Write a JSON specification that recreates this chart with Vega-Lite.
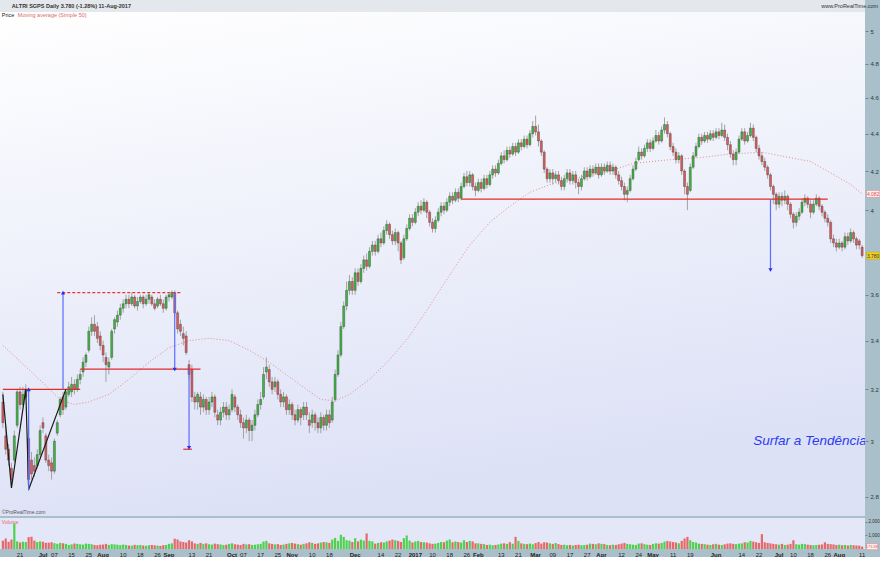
{
"$schema": "https://vega.github.io/schema/vega-lite/v6.json",
"padding": 0,
"background": "#a9c0ca",
"spacing": 2,
"config": {"view": {"stroke": null}, "font": "Liberation Sans"},
"datasets": {
"bars": [
{"d":"2016-06-13","o":3.15,"h":3.19,"l":3.05,"c":3.07,"v":620},
{"d":"2016-06-14","o":3.02,"h":3.06,"l":2.95,"c":2.97,"v":780},
{"d":"2016-06-15","o":2.97,"h":2.99,"l":2.91,"c":2.93,"v":540},
{"d":"2016-06-16","o":2.90,"h":2.92,"l":2.83,"c":2.86,"v":700},
{"d":"2016-06-17","o":2.93,"h":3.04,"l":2.92,"c":3.02,"v":1900},
{"d":"2016-06-20","o":3.06,"h":3.20,"l":3.05,"c":3.19,"v":560},
{"d":"2016-06-21","o":3.19,"h":3.21,"l":3.12,"c":3.14,"v":480},
{"d":"2016-06-22","o":3.14,"h":3.21,"l":3.13,"c":3.18,"v":540},
{"d":"2016-06-23","o":3.17,"h":3.22,"l":3.16,"c":3.20,"v":520},
{"d":"2016-06-24","o":3.01,"h":3.05,"l":2.82,"c":2.86,"v":880},
{"d":"2016-06-27","o":2.93,"h":2.96,"l":2.86,"c":2.88,"v":900},
{"d":"2016-06-28","o":2.91,"h":2.94,"l":2.87,"c":2.89,"v":620},
{"d":"2016-06-29","o":2.91,"h":2.97,"l":2.90,"c":2.95,"v":520},
{"d":"2016-06-30","o":2.95,"h":3.06,"l":2.94,"c":3.04,"v":560},
{"d":"2016-07-01","o":3.07,"h":3.09,"l":3.03,"c":3.05,"v":540},
{"d":"2016-07-04","o":3.02,"h":3.03,"l":2.92,"c":2.93,"v":460},
{"d":"2016-07-05","o":2.93,"h":2.95,"l":2.89,"c":2.91,"v":470},
{"d":"2016-07-06","o":2.92,"h":2.94,"l":2.86,"c":2.89,"v":500},
{"d":"2016-07-07","o":2.89,"h":3.01,"l":2.88,"c":3.00,"v":430},
{"d":"2016-07-08","o":3.03,"h":3.08,"l":3.02,"c":3.07,"v":380},
{"d":"2016-07-11","o":3.10,"h":3.17,"l":3.09,"c":3.16,"v":450},
{"d":"2016-07-12","o":3.17,"h":3.19,"l":3.10,"c":3.12,"v":420},
{"d":"2016-07-13","o":3.13,"h":3.20,"l":3.12,"c":3.19,"v":380},
{"d":"2016-07-14","o":3.18,"h":3.23,"l":3.17,"c":3.21,"v":300},
{"d":"2016-07-15","o":3.19,"h":3.25,"l":3.17,"c":3.22,"v":340},
{"d":"2016-07-18","o":3.22,"h":3.24,"l":3.18,"c":3.20,"v":410},
{"d":"2016-07-19","o":3.20,"h":3.26,"l":3.19,"c":3.24,"v":380},
{"d":"2016-07-20","o":3.24,"h":3.28,"l":3.22,"c":3.26,"v":350},
{"d":"2016-07-21","o":3.27,"h":3.33,"l":3.25,"c":3.31,"v":330},
{"d":"2016-07-22","o":3.31,"h":3.35,"l":3.29,"c":3.34,"v":400},
{"d":"2016-07-25","o":3.36,"h":3.46,"l":3.35,"c":3.44,"v":380},
{"d":"2016-07-26","o":3.44,"h":3.50,"l":3.42,"c":3.47,"v":360},
{"d":"2016-07-27","o":3.47,"h":3.51,"l":3.42,"c":3.44,"v":300},
{"d":"2016-07-28","o":3.46,"h":3.48,"l":3.39,"c":3.41,"v":280},
{"d":"2016-07-29","o":3.42,"h":3.44,"l":3.36,"c":3.38,"v":320},
{"d":"2016-08-01","o":3.38,"h":3.40,"l":3.31,"c":3.34,"v":330},
{"d":"2016-08-02","o":3.33,"h":3.35,"l":3.23,"c":3.30,"v":380},
{"d":"2016-08-03","o":3.29,"h":3.33,"l":3.26,"c":3.31,"v":300},
{"d":"2016-08-04","o":3.33,"h":3.45,"l":3.32,"c":3.44,"v":360},
{"d":"2016-08-05","o":3.45,"h":3.50,"l":3.43,"c":3.49,"v":340},
{"d":"2016-08-08","o":3.48,"h":3.53,"l":3.46,"c":3.51,"v":320},
{"d":"2016-08-09","o":3.51,"h":3.56,"l":3.49,"c":3.54,"v":290},
{"d":"2016-08-10","o":3.54,"h":3.58,"l":3.52,"c":3.56,"v":330},
{"d":"2016-08-11","o":3.56,"h":3.60,"l":3.54,"c":3.58,"v":300},
{"d":"2016-08-12","o":3.58,"h":3.60,"l":3.54,"c":3.56,"v":260},
{"d":"2016-08-15","o":3.56,"h":3.61,"l":3.55,"c":3.59,"v":250},
{"d":"2016-08-16","o":3.59,"h":3.60,"l":3.54,"c":3.55,"v":310},
{"d":"2016-08-17","o":3.55,"h":3.59,"l":3.53,"c":3.57,"v":280},
{"d":"2016-08-18","o":3.57,"h":3.60,"l":3.56,"c":3.59,"v":300},
{"d":"2016-08-19","o":3.59,"h":3.60,"l":3.54,"c":3.56,"v":260},
{"d":"2016-08-22","o":3.56,"h":3.60,"l":3.55,"c":3.58,"v":240},
{"d":"2016-08-23","o":3.58,"h":3.61,"l":3.56,"c":3.60,"v":280},
{"d":"2016-08-24","o":3.59,"h":3.60,"l":3.55,"c":3.56,"v":300},
{"d":"2016-08-25","o":3.56,"h":3.58,"l":3.53,"c":3.54,"v":270},
{"d":"2016-08-26","o":3.55,"h":3.59,"l":3.54,"c":3.58,"v":250},
{"d":"2016-08-29","o":3.58,"h":3.60,"l":3.55,"c":3.56,"v":230},
{"d":"2016-08-30","o":3.56,"h":3.58,"l":3.52,"c":3.54,"v":280},
{"d":"2016-08-31","o":3.54,"h":3.60,"l":3.53,"c":3.59,"v":300},
{"d":"2016-09-01","o":3.59,"h":3.61,"l":3.57,"c":3.60,"v":380},
{"d":"2016-09-02","o":3.59,"h":3.62,"l":3.58,"c":3.61,"v":420},
{"d":"2016-09-05","o":3.61,"h":3.62,"l":3.50,"c":3.52,"v":760},
{"d":"2016-09-06","o":3.52,"h":3.53,"l":3.43,"c":3.45,"v":700},
{"d":"2016-09-07","o":3.47,"h":3.49,"l":3.42,"c":3.44,"v":560},
{"d":"2016-09-08","o":3.43,"h":3.46,"l":3.38,"c":3.41,"v":520},
{"d":"2016-09-09","o":3.42,"h":3.44,"l":3.34,"c":3.35,"v":480},
{"d":"2016-09-12","o":3.30,"h":3.32,"l":3.24,"c":3.26,"v":650},
{"d":"2016-09-13","o":3.28,"h":3.30,"l":3.15,"c":3.17,"v":560},
{"d":"2016-09-14","o":3.17,"h":3.19,"l":3.12,"c":3.15,"v":420},
{"d":"2016-09-15","o":3.15,"h":3.19,"l":3.12,"c":3.18,"v":380},
{"d":"2016-09-16","o":3.17,"h":3.19,"l":3.10,"c":3.13,"v":450},
{"d":"2016-09-19","o":3.13,"h":3.18,"l":3.11,"c":3.16,"v":380},
{"d":"2016-09-20","o":3.16,"h":3.17,"l":3.10,"c":3.12,"v":420},
{"d":"2016-09-21","o":3.12,"h":3.17,"l":3.10,"c":3.15,"v":350},
{"d":"2016-09-22","o":3.15,"h":3.19,"l":3.13,"c":3.17,"v":330},
{"d":"2016-09-23","o":3.17,"h":3.18,"l":3.09,"c":3.11,"v":400},
{"d":"2016-09-26","o":3.10,"h":3.12,"l":3.06,"c":3.08,"v":360},
{"d":"2016-09-27","o":3.08,"h":3.13,"l":3.06,"c":3.11,"v":340},
{"d":"2016-09-28","o":3.11,"h":3.15,"l":3.09,"c":3.13,"v":300},
{"d":"2016-09-29","o":3.13,"h":3.15,"l":3.08,"c":3.10,"v":320},
{"d":"2016-09-30","o":3.10,"h":3.14,"l":3.08,"c":3.12,"v":380},
{"d":"2016-10-03","o":3.12,"h":3.20,"l":3.11,"c":3.18,"v":420},
{"d":"2016-10-04","o":3.17,"h":3.18,"l":3.11,"c":3.13,"v":350},
{"d":"2016-10-05","o":3.13,"h":3.14,"l":3.08,"c":3.10,"v":330},
{"d":"2016-10-06","o":3.10,"h":3.12,"l":3.05,"c":3.07,"v":300},
{"d":"2016-10-07","o":3.07,"h":3.09,"l":3.01,"c":3.05,"v":380},
{"d":"2016-10-10","o":3.05,"h":3.10,"l":3.03,"c":3.08,"v":340},
{"d":"2016-10-11","o":3.08,"h":3.09,"l":3.00,"c":3.04,"v":360},
{"d":"2016-10-12","o":3.04,"h":3.08,"l":3.00,"c":3.06,"v":300},
{"d":"2016-10-13","o":3.06,"h":3.12,"l":3.04,"c":3.10,"v":320},
{"d":"2016-10-14","o":3.10,"h":3.16,"l":3.09,"c":3.14,"v":350},
{"d":"2016-10-17","o":3.14,"h":3.19,"l":3.12,"c":3.16,"v":380},
{"d":"2016-10-18","o":3.17,"h":3.29,"l":3.16,"c":3.26,"v":550},
{"d":"2016-10-19","o":3.27,"h":3.33,"l":3.24,"c":3.29,"v":600},
{"d":"2016-10-20","o":3.28,"h":3.30,"l":3.21,"c":3.23,"v":420},
{"d":"2016-10-21","o":3.23,"h":3.25,"l":3.18,"c":3.20,"v":380},
{"d":"2016-10-24","o":3.21,"h":3.25,"l":3.19,"c":3.23,"v":340},
{"d":"2016-10-25","o":3.23,"h":3.24,"l":3.16,"c":3.18,"v":360},
{"d":"2016-10-26","o":3.18,"h":3.20,"l":3.13,"c":3.15,"v":300},
{"d":"2016-10-27","o":3.15,"h":3.19,"l":3.13,"c":3.17,"v":330},
{"d":"2016-10-28","o":3.17,"h":3.18,"l":3.10,"c":3.12,"v":380},
{"d":"2016-10-31","o":3.12,"h":3.16,"l":3.10,"c":3.14,"v":420},
{"d":"2016-11-01","o":3.14,"h":3.15,"l":3.08,"c":3.10,"v":450},
{"d":"2016-11-02","o":3.10,"h":3.12,"l":3.06,"c":3.08,"v":400},
{"d":"2016-11-03","o":3.08,"h":3.14,"l":3.07,"c":3.12,"v":360},
{"d":"2016-11-04","o":3.12,"h":3.13,"l":3.06,"c":3.09,"v":320},
{"d":"2016-11-07","o":3.10,"h":3.15,"l":3.08,"c":3.13,"v":380},
{"d":"2016-11-08","o":3.13,"h":3.15,"l":3.08,"c":3.10,"v":420},
{"d":"2016-11-09","o":3.08,"h":3.11,"l":3.03,"c":3.06,"v":500},
{"d":"2016-11-10","o":3.07,"h":3.12,"l":3.05,"c":3.10,"v":450},
{"d":"2016-11-11","o":3.10,"h":3.11,"l":3.04,"c":3.07,"v":380},
{"d":"2016-11-14","o":3.07,"h":3.09,"l":3.03,"c":3.05,"v":420},
{"d":"2016-11-15","o":3.05,"h":3.11,"l":3.03,"c":3.09,"v":480},
{"d":"2016-11-16","o":3.09,"h":3.10,"l":3.04,"c":3.06,"v":520},
{"d":"2016-11-17","o":3.06,"h":3.12,"l":3.04,"c":3.10,"v":500},
{"d":"2016-11-18","o":3.10,"h":3.12,"l":3.05,"c":3.07,"v":460},
{"d":"2016-11-21","o":3.08,"h":3.17,"l":3.07,"c":3.15,"v":700},
{"d":"2016-11-22","o":3.16,"h":3.28,"l":3.15,"c":3.26,"v":820},
{"d":"2016-11-23","o":3.26,"h":3.36,"l":3.25,"c":3.34,"v":600},
{"d":"2016-11-24","o":3.34,"h":3.48,"l":3.33,"c":3.46,"v":1050},
{"d":"2016-11-25","o":3.46,"h":3.57,"l":3.45,"c":3.55,"v":900},
{"d":"2016-11-28","o":3.55,"h":3.66,"l":3.53,"c":3.62,"v":650},
{"d":"2016-11-29","o":3.62,"h":3.69,"l":3.60,"c":3.66,"v":620},
{"d":"2016-11-30","o":3.66,"h":3.68,"l":3.60,"c":3.62,"v":520},
{"d":"2016-12-01","o":3.62,"h":3.72,"l":3.60,"c":3.70,"v":800},
{"d":"2016-12-02","o":3.70,"h":3.72,"l":3.64,"c":3.66,"v":560},
{"d":"2016-12-05","o":3.66,"h":3.74,"l":3.65,"c":3.72,"v":700},
{"d":"2016-12-06","o":3.72,"h":3.78,"l":3.70,"c":3.76,"v":620},
{"d":"2016-12-07","o":3.76,"h":3.79,"l":3.71,"c":3.73,"v":1150},
{"d":"2016-12-08","o":3.73,"h":3.82,"l":3.72,"c":3.80,"v":600},
{"d":"2016-12-09","o":3.80,"h":3.85,"l":3.78,"c":3.83,"v":560},
{"d":"2016-12-12","o":3.83,"h":3.85,"l":3.78,"c":3.80,"v":400},
{"d":"2016-12-13","o":3.80,"h":3.88,"l":3.79,"c":3.86,"v":450},
{"d":"2016-12-14","o":3.86,"h":3.89,"l":3.82,"c":3.84,"v":500},
{"d":"2016-12-15","o":3.84,"h":3.92,"l":3.83,"c":3.90,"v":480},
{"d":"2016-12-16","o":3.90,"h":3.95,"l":3.88,"c":3.93,"v":560},
{"d":"2016-12-19","o":3.93,"h":3.94,"l":3.86,"c":3.88,"v":620},
{"d":"2016-12-20","o":3.88,"h":3.90,"l":3.83,"c":3.85,"v":700},
{"d":"2016-12-21","o":3.85,"h":3.91,"l":3.83,"c":3.89,"v":650},
{"d":"2016-12-22","o":3.89,"h":3.90,"l":3.80,"c":3.84,"v":600},
{"d":"2016-12-23","o":3.84,"h":3.85,"l":3.74,"c":3.76,"v":520},
{"d":"2016-12-27","o":3.77,"h":3.88,"l":3.76,"c":3.86,"v":800},
{"d":"2016-12-28","o":3.86,"h":3.93,"l":3.85,"c":3.91,"v":1000},
{"d":"2016-12-29","o":3.91,"h":3.98,"l":3.90,"c":3.96,"v":620},
{"d":"2016-12-30","o":3.96,"h":3.98,"l":3.92,"c":3.94,"v":480},
{"d":"2017-01-02","o":3.94,"h":4.01,"l":3.93,"c":3.99,"v":560},
{"d":"2017-01-03","o":3.99,"h":4.04,"l":3.97,"c":4.02,"v":600},
{"d":"2017-01-04","o":4.02,"h":4.05,"l":3.98,"c":4.00,"v":520},
{"d":"2017-01-05","o":4.00,"h":4.06,"l":3.99,"c":4.04,"v":500},
{"d":"2017-01-06","o":4.04,"h":4.05,"l":3.96,"c":3.99,"v":480},
{"d":"2017-01-09","o":3.99,"h":4.00,"l":3.92,"c":3.94,"v":420},
{"d":"2017-01-10","o":3.94,"h":3.96,"l":3.89,"c":3.91,"v":380},
{"d":"2017-01-11","o":3.91,"h":3.97,"l":3.89,"c":3.95,"v":400},
{"d":"2017-01-12","o":3.95,"h":4.01,"l":3.94,"c":3.99,"v":450},
{"d":"2017-01-13","o":3.99,"h":4.04,"l":3.97,"c":4.02,"v":520},
{"d":"2017-01-16","o":4.02,"h":4.04,"l":3.98,"c":4.00,"v":500},
{"d":"2017-01-17","o":4.00,"h":4.06,"l":3.99,"c":4.04,"v":620},
{"d":"2017-01-18","o":4.04,"h":4.09,"l":4.02,"c":4.07,"v":700},
{"d":"2017-01-19","o":4.07,"h":4.09,"l":4.03,"c":4.05,"v":500},
{"d":"2017-01-20","o":4.05,"h":4.11,"l":4.04,"c":4.09,"v":560},
{"d":"2017-01-23","o":4.09,"h":4.11,"l":4.04,"c":4.06,"v":520},
{"d":"2017-01-24","o":4.06,"h":4.14,"l":4.05,"c":4.12,"v":480},
{"d":"2017-01-25","o":4.12,"h":4.19,"l":4.11,"c":4.17,"v":650},
{"d":"2017-01-26","o":4.17,"h":4.20,"l":4.12,"c":4.14,"v":520},
{"d":"2017-01-27","o":4.14,"h":4.20,"l":4.12,"c":4.18,"v":600},
{"d":"2017-01-30","o":4.18,"h":4.19,"l":4.10,"c":4.12,"v":560},
{"d":"2017-01-31","o":4.12,"h":4.14,"l":4.07,"c":4.10,"v":420},
{"d":"2017-02-01","o":4.10,"h":4.16,"l":4.09,"c":4.14,"v":420},
{"d":"2017-02-02","o":4.14,"h":4.16,"l":4.09,"c":4.11,"v":380},
{"d":"2017-02-03","o":4.11,"h":4.18,"l":4.10,"c":4.16,"v":360},
{"d":"2017-02-06","o":4.16,"h":4.18,"l":4.11,"c":4.13,"v":300},
{"d":"2017-02-07","o":4.13,"h":4.20,"l":4.12,"c":4.18,"v":320},
{"d":"2017-02-08","o":4.18,"h":4.23,"l":4.16,"c":4.21,"v":280},
{"d":"2017-02-09","o":4.21,"h":4.23,"l":4.17,"c":4.19,"v":300},
{"d":"2017-02-10","o":4.19,"h":4.26,"l":4.18,"c":4.24,"v":340},
{"d":"2017-02-13","o":4.24,"h":4.30,"l":4.23,"c":4.28,"v":400},
{"d":"2017-02-14","o":4.28,"h":4.31,"l":4.24,"c":4.26,"v":420},
{"d":"2017-02-15","o":4.26,"h":4.33,"l":4.25,"c":4.31,"v":380},
{"d":"2017-02-16","o":4.31,"h":4.33,"l":4.27,"c":4.29,"v":500},
{"d":"2017-02-17","o":4.29,"h":4.35,"l":4.28,"c":4.33,"v":380},
{"d":"2017-02-20","o":4.33,"h":4.35,"l":4.28,"c":4.30,"v":900},
{"d":"2017-02-21","o":4.30,"h":4.37,"l":4.29,"c":4.35,"v":600},
{"d":"2017-02-22","o":4.35,"h":4.37,"l":4.31,"c":4.33,"v":420},
{"d":"2017-02-23","o":4.33,"h":4.39,"l":4.32,"c":4.37,"v":380},
{"d":"2017-02-24","o":4.37,"h":4.39,"l":4.32,"c":4.34,"v":360},
{"d":"2017-02-27","o":4.34,"h":4.42,"l":4.33,"c":4.40,"v":400},
{"d":"2017-02-28","o":4.40,"h":4.47,"l":4.38,"c":4.44,"v":350},
{"d":"2017-03-01","o":4.44,"h":4.50,"l":4.39,"c":4.41,"v":440},
{"d":"2017-03-02","o":4.41,"h":4.45,"l":4.33,"c":4.36,"v":520},
{"d":"2017-03-03","o":4.36,"h":4.37,"l":4.28,"c":4.30,"v":400},
{"d":"2017-03-06","o":4.30,"h":4.31,"l":4.19,"c":4.21,"v":500},
{"d":"2017-03-07","o":4.21,"h":4.22,"l":4.14,"c":4.16,"v":480},
{"d":"2017-03-08","o":4.16,"h":4.21,"l":4.14,"c":4.19,"v":420},
{"d":"2017-03-09","o":4.19,"h":4.21,"l":4.13,"c":4.16,"v":380},
{"d":"2017-03-10","o":4.16,"h":4.20,"l":4.14,"c":4.18,"v":440},
{"d":"2017-03-13","o":4.18,"h":4.20,"l":4.13,"c":4.15,"v":360},
{"d":"2017-03-14","o":4.15,"h":4.17,"l":4.10,"c":4.12,"v":300},
{"d":"2017-03-15","o":4.12,"h":4.18,"l":4.10,"c":4.16,"v":320},
{"d":"2017-03-16","o":4.16,"h":4.21,"l":4.14,"c":4.19,"v":280},
{"d":"2017-03-17","o":4.19,"h":4.21,"l":4.13,"c":4.15,"v":300},
{"d":"2017-03-20","o":4.15,"h":4.20,"l":4.13,"c":4.18,"v":260},
{"d":"2017-03-21","o":4.18,"h":4.20,"l":4.11,"c":4.14,"v":300},
{"d":"2017-03-22","o":4.14,"h":4.16,"l":4.08,"c":4.12,"v":320},
{"d":"2017-03-23","o":4.12,"h":4.18,"l":4.10,"c":4.16,"v":280},
{"d":"2017-03-24","o":4.16,"h":4.22,"l":4.15,"c":4.20,"v":300},
{"d":"2017-03-27","o":4.20,"h":4.22,"l":4.15,"c":4.17,"v":320},
{"d":"2017-03-28","o":4.17,"h":4.23,"l":4.16,"c":4.21,"v":400},
{"d":"2017-03-29","o":4.21,"h":4.23,"l":4.17,"c":4.19,"v":380},
{"d":"2017-03-30","o":4.19,"h":4.24,"l":4.18,"c":4.22,"v":350},
{"d":"2017-03-31","o":4.22,"h":4.24,"l":4.16,"c":4.18,"v":420},
{"d":"2017-04-03","o":4.18,"h":4.24,"l":4.17,"c":4.22,"v":380},
{"d":"2017-04-04","o":4.22,"h":4.24,"l":4.18,"c":4.20,"v":360},
{"d":"2017-04-05","o":4.20,"h":4.25,"l":4.19,"c":4.23,"v":300},
{"d":"2017-04-06","o":4.23,"h":4.25,"l":4.18,"c":4.20,"v":280},
{"d":"2017-04-07","o":4.20,"h":4.24,"l":4.18,"c":4.22,"v":320},
{"d":"2017-04-10","o":4.22,"h":4.23,"l":4.16,"c":4.18,"v":300},
{"d":"2017-04-11","o":4.18,"h":4.20,"l":4.13,"c":4.15,"v":350},
{"d":"2017-04-12","o":4.15,"h":4.17,"l":4.10,"c":4.12,"v":400},
{"d":"2017-04-13","o":4.12,"h":4.14,"l":4.05,"c":4.08,"v":450},
{"d":"2017-04-18","o":4.08,"h":4.12,"l":4.04,"c":4.10,"v":380},
{"d":"2017-04-19","o":4.10,"h":4.18,"l":4.09,"c":4.16,"v":350},
{"d":"2017-04-20","o":4.16,"h":4.23,"l":4.15,"c":4.21,"v":320},
{"d":"2017-04-21","o":4.21,"h":4.27,"l":4.20,"c":4.25,"v":300},
{"d":"2017-04-24","o":4.26,"h":4.33,"l":4.25,"c":4.30,"v":400},
{"d":"2017-04-25","o":4.30,"h":4.32,"l":4.26,"c":4.28,"v":420},
{"d":"2017-04-26","o":4.28,"h":4.34,"l":4.27,"c":4.32,"v":360},
{"d":"2017-04-27","o":4.32,"h":4.37,"l":4.30,"c":4.35,"v":320},
{"d":"2017-04-28","o":4.35,"h":4.37,"l":4.30,"c":4.32,"v":300},
{"d":"2017-05-02","o":4.32,"h":4.38,"l":4.31,"c":4.36,"v":380},
{"d":"2017-05-03","o":4.36,"h":4.42,"l":4.35,"c":4.39,"v":420},
{"d":"2017-05-04","o":4.39,"h":4.41,"l":4.34,"c":4.36,"v":400},
{"d":"2017-05-05","o":4.36,"h":4.44,"l":4.35,"c":4.42,"v":450},
{"d":"2017-05-08","o":4.42,"h":4.49,"l":4.40,"c":4.45,"v":550},
{"d":"2017-05-09","o":4.45,"h":4.47,"l":4.38,"c":4.40,"v":600},
{"d":"2017-05-10","o":4.40,"h":4.41,"l":4.31,"c":4.33,"v":560},
{"d":"2017-05-11","o":4.33,"h":4.35,"l":4.28,"c":4.30,"v":520},
{"d":"2017-05-12","o":4.30,"h":4.32,"l":4.24,"c":4.26,"v":480},
{"d":"2017-05-15","o":4.26,"h":4.30,"l":4.24,"c":4.28,"v":420},
{"d":"2017-05-16","o":4.28,"h":4.29,"l":4.18,"c":4.20,"v":600},
{"d":"2017-05-17","o":4.20,"h":4.21,"l":4.08,"c":4.12,"v":780},
{"d":"2017-05-18","o":4.12,"h":4.14,"l":4.00,"c":4.08,"v":900},
{"d":"2017-05-19","o":4.10,"h":4.24,"l":4.09,"c":4.22,"v":650},
{"d":"2017-05-22","o":4.22,"h":4.30,"l":4.21,"c":4.28,"v":520},
{"d":"2017-05-23","o":4.28,"h":4.35,"l":4.27,"c":4.33,"v":480},
{"d":"2017-05-24","o":4.33,"h":4.40,"l":4.32,"c":4.38,"v":400},
{"d":"2017-05-25","o":4.38,"h":4.40,"l":4.34,"c":4.36,"v":380},
{"d":"2017-05-26","o":4.36,"h":4.41,"l":4.35,"c":4.39,"v":360},
{"d":"2017-05-29","o":4.39,"h":4.41,"l":4.35,"c":4.37,"v":320},
{"d":"2017-05-30","o":4.37,"h":4.42,"l":4.36,"c":4.40,"v":300},
{"d":"2017-05-31","o":4.40,"h":4.42,"l":4.36,"c":4.38,"v":350},
{"d":"2017-06-01","o":4.38,"h":4.43,"l":4.37,"c":4.41,"v":380},
{"d":"2017-06-02","o":4.41,"h":4.43,"l":4.37,"c":4.39,"v":320},
{"d":"2017-06-05","o":4.39,"h":4.46,"l":4.38,"c":4.42,"v":300},
{"d":"2017-06-06","o":4.42,"h":4.45,"l":4.36,"c":4.38,"v":350},
{"d":"2017-06-07","o":4.38,"h":4.40,"l":4.31,"c":4.34,"v":400},
{"d":"2017-06-08","o":4.34,"h":4.36,"l":4.27,"c":4.29,"v":420},
{"d":"2017-06-09","o":4.29,"h":4.31,"l":4.23,"c":4.26,"v":380},
{"d":"2017-06-12","o":4.26,"h":4.32,"l":4.23,"c":4.30,"v":360},
{"d":"2017-06-13","o":4.30,"h":4.39,"l":4.29,"c":4.37,"v":400},
{"d":"2017-06-14","o":4.37,"h":4.43,"l":4.36,"c":4.41,"v":420},
{"d":"2017-06-15","o":4.41,"h":4.43,"l":4.34,"c":4.36,"v":500},
{"d":"2017-06-16","o":4.36,"h":4.41,"l":4.35,"c":4.39,"v":480},
{"d":"2017-06-19","o":4.39,"h":4.46,"l":4.38,"c":4.43,"v":600},
{"d":"2017-06-20","o":4.43,"h":4.45,"l":4.36,"c":4.38,"v":550},
{"d":"2017-06-21","o":4.38,"h":4.39,"l":4.30,"c":4.32,"v":500},
{"d":"2017-06-22","o":4.32,"h":4.34,"l":4.26,"c":4.28,"v":450},
{"d":"2017-06-23","o":4.28,"h":4.30,"l":4.23,"c":4.25,"v":1100},
{"d":"2017-06-26","o":4.25,"h":4.27,"l":4.20,"c":4.22,"v":500},
{"d":"2017-06-27","o":4.22,"h":4.23,"l":4.16,"c":4.18,"v":450},
{"d":"2017-06-28","o":4.18,"h":4.19,"l":4.10,"c":4.12,"v":420},
{"d":"2017-06-29","o":4.12,"h":4.13,"l":4.03,"c":4.08,"v":380},
{"d":"2017-06-30","o":4.08,"h":4.09,"l":4.00,"c":4.03,"v":350},
{"d":"2017-07-03","o":4.03,"h":4.09,"l":4.01,"c":4.07,"v":320},
{"d":"2017-07-04","o":4.07,"h":4.09,"l":4.02,"c":4.05,"v":380},
{"d":"2017-07-05","o":4.05,"h":4.10,"l":4.03,"c":4.07,"v":300},
{"d":"2017-07-06","o":4.07,"h":4.08,"l":4.00,"c":4.03,"v":320},
{"d":"2017-07-07","o":4.03,"h":4.04,"l":3.96,"c":3.98,"v":380},
{"d":"2017-07-10","o":3.98,"h":3.99,"l":3.91,"c":3.94,"v":650},
{"d":"2017-07-11","o":3.94,"h":3.99,"l":3.92,"c":3.97,"v":350},
{"d":"2017-07-12","o":3.97,"h":4.01,"l":3.95,"c":3.99,"v":320},
{"d":"2017-07-13","o":3.99,"h":4.06,"l":3.98,"c":4.04,"v":380},
{"d":"2017-07-14","o":4.04,"h":4.08,"l":4.02,"c":4.06,"v":360},
{"d":"2017-07-17","o":4.06,"h":4.07,"l":4.01,"c":4.03,"v":320},
{"d":"2017-07-18","o":4.03,"h":4.05,"l":3.96,"c":3.99,"v":300},
{"d":"2017-07-19","o":3.99,"h":4.05,"l":3.98,"c":4.03,"v":280},
{"d":"2017-07-20","o":4.03,"h":4.08,"l":4.02,"c":4.06,"v":300},
{"d":"2017-07-21","o":4.06,"h":4.07,"l":4.00,"c":4.02,"v":320},
{"d":"2017-07-24","o":4.02,"h":4.03,"l":3.97,"c":3.99,"v":340},
{"d":"2017-07-25","o":3.99,"h":4.00,"l":3.94,"c":3.96,"v":500},
{"d":"2017-07-26","o":3.96,"h":3.98,"l":3.92,"c":3.94,"v":380},
{"d":"2017-07-27","o":3.94,"h":3.95,"l":3.84,"c":3.86,"v":360},
{"d":"2017-07-28","o":3.86,"h":3.88,"l":3.82,"c":3.84,"v":340},
{"d":"2017-07-31","o":3.84,"h":3.86,"l":3.80,"c":3.82,"v":300},
{"d":"2017-08-01","o":3.82,"h":3.86,"l":3.81,"c":3.84,"v":320},
{"d":"2017-08-02","o":3.84,"h":3.85,"l":3.80,"c":3.82,"v":280},
{"d":"2017-08-03","o":3.82,"h":3.89,"l":3.81,"c":3.87,"v":300},
{"d":"2017-08-04","o":3.87,"h":3.89,"l":3.83,"c":3.85,"v":260},
{"d":"2017-08-07","o":3.85,"h":3.91,"l":3.84,"c":3.89,"v":300},
{"d":"2017-08-08","o":3.89,"h":3.90,"l":3.84,"c":3.86,"v":280},
{"d":"2017-08-09","o":3.86,"h":3.87,"l":3.81,"c":3.83,"v":260},
{"d":"2017-08-10","o":3.85,"h":3.86,"l":3.81,"c":3.83,"v":250},
{"d":"2017-08-11","o":3.82,"h":3.83,"l":3.77,"c":3.78,"v":173}
],
"ma": [
{"d":"2016-06-13","m":3.38},{"d":"2016-06-27","m":3.27},{"d":"2016-07-11","m":3.16},{"d":"2016-07-18","m":3.14},
{"d":"2016-07-25","m":3.15},{"d":"2016-08-03","m":3.18},{"d":"2016-08-12","m":3.24},{"d":"2016-08-23","m":3.31},
{"d":"2016-09-01","m":3.37},{"d":"2016-09-12","m":3.40},{"d":"2016-09-21","m":3.41},{"d":"2016-09-30","m":3.40},
{"d":"2016-10-11","m":3.36},{"d":"2016-10-20","m":3.31},{"d":"2016-10-31","m":3.25},{"d":"2016-11-08","m":3.20},
{"d":"2016-11-15","m":3.16},{"d":"2016-11-22","m":3.155},{"d":"2016-11-29","m":3.18},{"d":"2016-12-08","m":3.24},
{"d":"2016-12-19","m":3.32},{"d":"2016-12-29","m":3.42},{"d":"2017-01-09","m":3.55},{"d":"2017-01-18","m":3.69},
{"d":"2017-01-27","m":3.83},{"d":"2017-02-07","m":3.94},{"d":"2017-02-16","m":4.02},{"d":"2017-02-27","m":4.09},
{"d":"2017-03-08","m":4.13},{"d":"2017-03-23","m":4.17},{"d":"2017-04-06","m":4.20},{"d":"2017-04-20","m":4.24},
{"d":"2017-05-10","m":4.26},{"d":"2017-05-24","m":4.27},{"d":"2017-06-08","m":4.29},{"d":"2017-06-23","m":4.30},
{"d":"2017-07-07","m":4.27},{"d":"2017-07-18","m":4.25},{"d":"2017-07-27","m":4.19},{"d":"2017-08-07","m":4.13},
{"d":"2017-08-11","m":4.082}
],
"redLines": [
{"a":"2016-06-13","b":"2016-07-20","p":3.20},
{"a":"2016-07-20","b":"2016-09-16","p":3.282},
{"a":"2016-09-08","b":"2016-09-13","p":2.97},
{"a":"2017-01-24","b":"2017-07-26","p":4.056}
],
"dashLines": [
{"a":"2016-07-08","b":"2016-09-07","p":3.61}
],
"zigzag": [
{"d":"2016-06-13","p":3.18},{"d":"2016-06-16","p":2.83},{"d":"2016-06-23","p":3.20},{"d":"2016-06-24","p":2.825},{"d":"2016-07-13","p":3.20}
],
"arrowsUp": [
{"d":"2016-06-24","from":2.825,"to":3.20},
{"d":"2016-07-12","from":3.20,"to":3.61}
],
"arrowsDown": [
{"d":"2016-09-05","from":3.61,"to":3.28},
{"d":"2016-09-12","from":3.28,"to":2.975},
{"d":"2017-06-28","from":4.056,"to":3.713}
]
},
"vconcat": [
{
"width": 865,
"height": 504,
"resolve": {"axis": {"x": "independent", "y": "independent"}},
"layer": [
{"data": {"values": [{}]}, "mark": {"type": "rect", "color": {"gradient": "linear", "x1": 0, "y1": 0, "x2": 0.25, "y2": 1, "stops": [{"offset": 0, "color": "#ffffff"}, {"offset": 1, "color": "#dde1f6"}]}}, "encoding": {}},
{"data": {"values": [{"a": 5.12, "b": 5.197}]}, "mark": {"type": "rect", "color": "#e4e8ec", "x2Offset": 15},
 "encoding": {"y": {"field": "a", "type": "quantitative", "axis": null}, "y2": {"field": "b"}}},
{"data": {"name": "ma"}, "mark": {"type": "line", "color": "#e88a8a", "strokeWidth": 1, "strokeDash": [1, 2]},
 "encoding": {"x": {"field": "d", "type": "ordinal", "axis": null}, "y": {"field": "m", "type": "quantitative", "axis": null}}},
{"data": {"name": "bars"}, "mark": {"type": "rule", "color": "#a3a3a3", "strokeWidth": 1},
 "encoding": {"x": {"field": "d", "type": "ordinal", "axis": null, "scale": {"type": "band", "paddingInner": 0, "paddingOuter": 0.5}},
  "y": {"field": "l", "type": "quantitative", "scale": {"type": "log", "domain": [2.733, 5.12], "nice": false, "zero": false},
   "axis": {"orient": "right", "title": null, "values": [2.8, 3, 3.2, 3.4, 3.6, 4, 4.2, 4.4, 4.6, 4.8, 5], "format": ".1~f", "labelFontSize": 6, "labelColor": "#333333", "tickSize": 3, "tickColor": "#6f8792", "labelPadding": 2, "domain": false, "grid": false}},
  "y2": {"field": "h"}}},
{"data": {"name": "bars"}, "mark": {"type": "bar", "size": 2, "stroke": "#3a3a3a", "strokeWidth": 0.4},
 "encoding": {"x": {"field": "d", "type": "ordinal", "axis": null}, "y": {"field": "o", "type": "quantitative", "axis": null}, "y2": {"field": "c"},
  "color": {"condition": {"test": "datum.c >= datum.o", "value": "#3cb93c"}, "value": "#e05a5a"}}},
{"data": {"name": "redLines"}, "mark": {"type": "rule", "color": "#e52a2a", "strokeWidth": 1.2},
 "encoding": {"x": {"field": "a", "type": "ordinal", "axis": null}, "x2": {"field": "b"}, "y": {"field": "p", "type": "quantitative", "axis": null}}},
{"data": {"name": "dashLines"}, "mark": {"type": "rule", "color": "#ee3030", "strokeWidth": 1.2, "strokeDash": [3, 2]},
 "encoding": {"x": {"field": "a", "type": "ordinal", "axis": null}, "x2": {"field": "b"}, "y": {"field": "p", "type": "quantitative", "axis": null}}},
{"data": {"name": "zigzag"}, "mark": {"type": "line", "color": "#1a1a1a", "strokeWidth": 1.2},
 "encoding": {"x": {"field": "d", "type": "ordinal", "axis": null}, "y": {"field": "p", "type": "quantitative", "axis": null}}},
{"data": {"name": "arrowsUp"}, "mark": {"type": "rule", "color": "#5b6cff", "strokeWidth": 1.2},
 "encoding": {"x": {"field": "d", "type": "ordinal", "axis": null}, "y": {"field": "from", "type": "quantitative", "axis": null}, "y2": {"field": "to"}}},
{"data": {"name": "arrowsDown"}, "mark": {"type": "rule", "color": "#5b6cff", "strokeWidth": 1.2},
 "encoding": {"x": {"field": "d", "type": "ordinal", "axis": null}, "y": {"field": "from", "type": "quantitative", "axis": null}, "y2": {"field": "to"}}},
{"data": {"name": "arrowsUp"}, "mark": {"type": "point", "shape": "triangle-up", "filled": true, "color": "#2233ee", "size": 18, "opacity": 1},
 "encoding": {"x": {"field": "d", "type": "ordinal", "axis": null}, "y": {"field": "to", "type": "quantitative", "axis": null}}},
{"data": {"name": "arrowsDown"}, "mark": {"type": "point", "shape": "triangle-down", "filled": true, "color": "#2233ee", "size": 18, "opacity": 1},
 "encoding": {"x": {"field": "d", "type": "ordinal", "axis": null}, "y": {"field": "to", "type": "quantitative", "axis": null}}},
{"data": {"values": [{"d": "2017-06-20", "p": 3.0, "t": "Surfar a Tendência"}]}, "mark": {"type": "text", "align": "left", "baseline": "middle", "fontSize": 13.5, "fontStyle": "italic", "font": "Liberation Sans", "color": "#2a3cf0", "clip": true},
 "encoding": {"x": {"field": "d", "type": "ordinal", "axis": null}, "y": {"field": "p", "type": "quantitative", "axis": null}, "text": {"field": "t"}}},
{"data": {"values": [{"d": "2016-06-13", "p": 2.745, "t": "©ProRealTime.com"}]}, "mark": {"type": "text", "align": "left", "baseline": "middle", "fontSize": 5, "color": "#555555", "dx": -1},
 "encoding": {"x": {"field": "d", "type": "ordinal", "axis": null}, "y": {"field": "p", "type": "quantitative", "axis": null}, "text": {"field": "t"}}},
{"data": {"values": [{"d": "2016-06-13", "p": 5.158, "t": "ALTRI SGPS    Daily    3.780 (-1.28%)    11-Aug-2017"}]}, "mark": {"type": "text", "align": "left", "baseline": "middle", "fontSize": 5.5, "fontWeight": "bold", "color": "#333333", "dx": 9},
 "encoding": {"x": {"field": "d", "type": "ordinal", "axis": null}, "y": {"field": "p", "type": "quantitative", "axis": null}, "text": {"field": "t"}}},
{"data": {"values": [{"d": "2017-08-11", "p": 5.158, "t": "www.ProRealTime.com"}]}, "mark": {"type": "text", "align": "right", "baseline": "middle", "fontSize": 5.5, "color": "#333333", "dx": 16},
 "encoding": {"x": {"field": "d", "type": "ordinal", "axis": null}, "y": {"field": "p", "type": "quantitative", "axis": null}, "text": {"field": "t"}}},
{"data": {"values": [{"d": "2016-06-13", "p": 5.10, "t": "Price"}]}, "mark": {"type": "text", "align": "left", "baseline": "middle", "fontSize": 5.5, "color": "#222222", "dx": -1},
 "encoding": {"x": {"field": "d", "type": "ordinal", "axis": null}, "y": {"field": "p", "type": "quantitative", "axis": null}, "text": {"field": "t"}}},
{"data": {"values": [{"d": "2016-06-13", "p": 5.10, "t": "Moving average (Simple 50)"}]}, "mark": {"type": "text", "align": "left", "baseline": "middle", "fontSize": 5.5, "color": "#e06a6a", "dx": 15},
 "encoding": {"x": {"field": "d", "type": "ordinal", "axis": null}, "y": {"field": "p", "type": "quantitative", "axis": null}, "text": {"field": "t"}}},
{"data": {"values": [{"d": "2017-08-11", "p": 4.082}]}, "mark": {"type": "point", "shape": "M-1.9,-1H1.9V1H-1.9Z", "size": 49, "filled": true, "fill": "#fbeff2", "stroke": "#e07a7a", "strokeWidth": 0.5, "xOffset": 11, "opacity": 1},
 "encoding": {"x": {"field": "d", "type": "ordinal", "axis": null}, "y": {"field": "p", "type": "quantitative", "axis": null}}},
{"data": {"values": [{"d": "2017-08-11", "p": 4.082, "t": "4.082"}]}, "mark": {"type": "text", "align": "center", "baseline": "middle", "fontSize": 5, "color": "#e05050", "dx": 11},
 "encoding": {"x": {"field": "d", "type": "ordinal", "axis": null}, "y": {"field": "p", "type": "quantitative", "axis": null}, "text": {"field": "t"}}},
{"data": {"values": [{"d": "2017-08-11", "p": 3.78}]}, "mark": {"type": "point", "shape": "M-1.9,-1H1.9V1H-1.9Z", "size": 49, "filled": true, "fill": "#f0d21e", "stroke": "#c8a800", "strokeWidth": 0.5, "xOffset": 11, "opacity": 1},
 "encoding": {"x": {"field": "d", "type": "ordinal", "axis": null}, "y": {"field": "p", "type": "quantitative", "axis": null}}},
{"data": {"values": [{"d": "2017-08-11", "p": 3.78, "t": "3.780"}]}, "mark": {"type": "text", "align": "center", "baseline": "middle", "fontSize": 5, "color": "#333333", "dx": 11},
 "encoding": {"x": {"field": "d", "type": "ordinal", "axis": null}, "y": {"field": "p", "type": "quantitative", "axis": null}, "text": {"field": "t"}}}
]
},
{
"width": 865,
"height": 31,
"view": {"fill": "#e4e7f8"},
"resolve": {"axis": {"x": "independent", "y": "independent"}},
"layer": [
{"data": {"name": "bars"}, "mark": {"type": "bar", "size": 2.2},
 "encoding": {
  "x": {"field": "d", "type": "ordinal", "scale": {"type": "band", "paddingInner": 0, "paddingOuter": 0.5},
   "axis": {"title": null, "values": ["2016-06-21","2016-07-01","2016-07-07","2016-07-15","2016-07-25","2016-08-01","2016-08-10","2016-08-18","2016-08-26","2016-09-01","2016-09-13","2016-09-21","2016-10-03","2016-10-07","2016-10-17","2016-10-25","2016-11-01","2016-11-10","2016-11-18","2016-12-01","2016-12-14","2016-12-22","2017-01-02","2017-01-10","2017-01-18","2017-01-26","2017-02-01","2017-02-13","2017-02-21","2017-03-01","2017-03-09","2017-03-17","2017-03-27","2017-04-03","2017-04-12","2017-04-24","2017-05-02","2017-05-11","2017-05-19","2017-06-01","2017-06-14","2017-06-22","2017-07-03","2017-07-10","2017-07-18","2017-07-26","2017-08-01","2017-08-11"],
    "labelExpr": "indexof(['2016-07-01','2016-08-01','2016-09-01','2016-10-03','2016-11-01','2016-12-01','2017-02-01','2017-03-01','2017-04-03','2017-05-02','2017-06-01','2017-07-03','2017-08-01'], datum.value) >= 0 ? ['Jan','Feb','Mar','Apr','May','Jun','Jul','Aug','Sep','Oct','Nov','Dec'][toNumber(substring(datum.value, 5, 7)) - 1] : (datum.value == '2017-01-02' ? '2017' : substring(datum.value, 8, 10))",
    "labelFontWeight": {"condition": {"test": "indexof(['2016-07-01','2016-08-01','2016-09-01','2016-10-03','2016-11-01','2016-12-01','2017-01-02','2017-02-01','2017-03-01','2017-04-03','2017-05-02','2017-06-01','2017-07-03','2017-08-01'], datum.value) >= 0", "value": "bold"}, "value": "normal"},
    "labelFontSize": 6, "labelColor": "#222222", "labelAngle": 0, "labelOverlap": false, "ticks": false, "domain": false, "labelPadding": 2}},
  "y": {"field": "v", "type": "quantitative", "scale": {"domain": [0, 2296], "nice": false},
   "axis": {"orient": "right", "title": null, "values": [1000, 2000], "labelExpr": "datum.value == 2000 ? '2,000' : '1,000'", "labelFontSize": 4.5, "labelColor": "#333333", "tickSize": 2, "tickColor": "#6f8792", "labelPadding": 1, "domain": false, "grid": false}},
  "color": {"condition": {"test": "datum.c >= datum.o", "value": "#4fd14f"}, "value": "#e46a6a"}}},
{"data": {"values": [{"d": "2016-06-13", "v": 2030, "t": "Volume"}]}, "mark": {"type": "text", "align": "left", "baseline": "middle", "fontSize": 5, "color": "#e06a6a", "dx": -1},
 "encoding": {"x": {"field": "d", "type": "ordinal", "axis": null}, "y": {"field": "v", "type": "quantitative", "axis": null}, "text": {"field": "t"}}},
{"data": {"values": [{"d": "2017-08-11", "v": 173}]}, "mark": {"type": "point", "shape": "M-1.9,-1H1.9V1H-1.9Z", "size": 36, "filled": true, "fill": "#fdf3f3", "stroke": "#e07a7a", "strokeWidth": 0.5, "xOffset": 10, "opacity": 1},
 "encoding": {"x": {"field": "d", "type": "ordinal", "axis": null}, "y": {"field": "v", "type": "quantitative", "axis": null}}},
{"data": {"values": [{"d": "2017-08-11", "v": 173, "t": "173.6K"}]}, "mark": {"type": "text", "align": "center", "baseline": "middle", "fontSize": 4, "color": "#e05050", "dx": 10},
 "encoding": {"x": {"field": "d", "type": "ordinal", "axis": null}, "y": {"field": "v", "type": "quantitative", "axis": null}, "text": {"field": "t"}}}
]
}
]
}
